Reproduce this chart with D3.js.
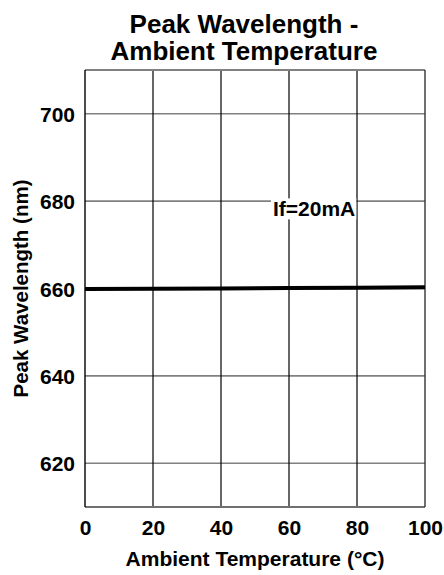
<!DOCTYPE html>
<html>
<head>
<meta charset="utf-8">
<script src="https://cdn.jsdelivr.net/npm/d3@7"></script>
<style>
  body { margin: 0; background: #fff; }
  svg text { font-family: "Liberation Sans", Arial, sans-serif; font-weight: bold; fill: #000; }
</style>
</head>
<body>
<div id="chart"></div>
<script>
// data
var temps = [0, 20, 40, 60, 80, 100];
var wavelengths = [659.9, 659.95, 660.0, 660.1, 660.2, 660.3];
var xTicks = [0, 20, 40, 60, 80, 100];
var yTicks = [620, 640, 660, 680, 700];
var titleLines = ["Peak Wavelength -", "Ambient Temperature"];
var xLabel = "Ambient Temperature (\u00b0C)";
var yLabel = "Peak Wavelength (nm)";
var noteText = "If=20mA";

var width = 444, height = 575;
var margin = {top: 70, right: 19, bottom: 68, left: 85};

const svg = d3.select('#chart').append('svg')
    .attr('width', width)
    .attr('height', height);

var x = d3.scaleLinear().domain([0, 100])
    .range([margin.left, width - margin.right]);
var y = d3.scaleLinear().domain([610, 710])
    .range([height - margin.bottom, margin.top]);

// horizontal grid (grey)
svg.append('g').classed('h-grid', true)
    .selectAll('line')
    .data(yTicks)
    .join('line')
    .attr('x1', x(0)).attr('x2', x(100))
    .attr('y1', d => y(d)).attr('y2', d => y(d))
    .attr('stroke', '#808080')
    .attr('stroke-width', 1.6);

// vertical grid (black)
svg.append('g').classed('v-grid', true)
    .selectAll('line')
    .data(xTicks.slice(1, -1))
    .join('line')
    .attr('x1', d => x(d)).attr('x2', d => x(d))
    .attr('y1', y(710)).attr('y2', y(610))
    .attr('stroke', '#000')
    .attr('stroke-width', 1.2);

// frame: top/bottom grey, sides black
svg.append('line')
    .attr('x1', x(0)).attr('x2', x(100)).attr('y1', y(710)).attr('y2', y(710))
    .attr('stroke', '#808080').attr('stroke-width', 1.8);
svg.append('line')
    .attr('x1', x(0)).attr('x2', x(100)).attr('y1', y(610)).attr('y2', y(610))
    .attr('stroke', '#707070').attr('stroke-width', 1.8);
svg.append('line')
    .attr('x1', x(0)).attr('x2', x(0)).attr('y1', y(710)).attr('y2', y(610))
    .attr('stroke', '#000').attr('stroke-width', 1.4);
svg.append('line')
    .attr('x1', x(100)).attr('x2', x(100)).attr('y1', y(710)).attr('y2', y(610))
    .attr('stroke', '#333').attr('stroke-width', 1.4);

// axes (labels only)
var gx = svg.append('g').classed('x-axis', true)
    .attr('transform', `translate(0,${height - margin.bottom})`)
    .call(d3.axisBottom(x).tickValues(xTicks).tickSize(0).tickPadding(0));
gx.select('.domain').remove();
gx.selectAll('text')
    .attr('y', 28)
    .attr('dy', 0)
    .style('font-size', '21px')
    .style('font-family', '"Liberation Sans", Arial, sans-serif');

var gy = svg.append('g').classed('y-axis', true)
    .attr('transform', `translate(${margin.left},0)`)
    .call(d3.axisLeft(y).tickValues(yTicks).tickSize(0).tickPadding(10));
gy.select('.domain').remove();
gy.selectAll('text')
    .attr('dy', '0.36em')
    .style('font-size', '21px')
    .style('font-family', '"Liberation Sans", Arial, sans-serif');

// the curve
var line = d3.line()
    .x((d, i) => x(temps[i]))
    .y(d => y(d));

svg.append('path')
    .datum(wavelengths)
    .attr('d', line)
    .attr('fill', 'none')
    .attr('stroke', '#000')
    .attr('stroke-width', 4);

// annotation with white box behind it
var note = svg.append('g').classed('note', true);
var noteX = x(67.4), noteY = y(676.5);
var noteTxt = note.append('text')
    .attr('x', noteX)
    .attr('y', noteY)
    .attr('text-anchor', 'middle')
    .style('font-size', '21px')
    .text(noteText);
var bb = noteTxt.node().getBBox();
note.insert('rect', 'text')
    .attr('x', bb.x - 2)
    .attr('y', bb.y + 1)
    .attr('width', bb.width + 3)
    .attr('height', bb.height - 2)
    .attr('fill', '#fff');

// titles
svg.append('g').classed('title', true)
    .selectAll('text')
    .data(titleLines)
    .join('text')
    .attr('x', 244)
    .attr('y', (d, i) => 32.5 + i * 27.5)
    .attr('text-anchor', 'middle')
    .style('font-size', '26px')
    .text(d => d);

svg.append('text')
    .attr('x', (x(0) + x(100)) / 2)
    .attr('y', 566)
    .attr('text-anchor', 'middle')
    .style('font-size', '21px')
    .text(xLabel);

svg.append('text')
    .attr('transform', `translate(28,${(y(610) + y(710)) / 2}) rotate(-90)`)
    .attr('text-anchor', 'middle')
    .style('font-size', '20.5px')
    .text(yLabel);
</script>
</body>
</html>
